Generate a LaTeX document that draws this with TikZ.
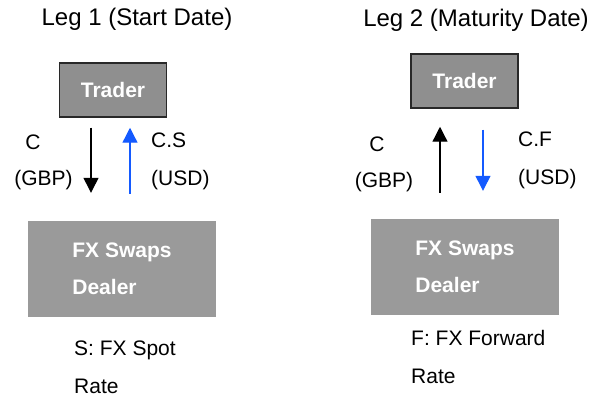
\documentclass[tikz,border=0pt]{standalone}
\usepackage{fontspec}
\setmainfont{Liberation Sans}
\usetikzlibrary{arrows.meta}
\definecolor{traderfill}{RGB}{143,143,143}
\definecolor{dealerfill}{RGB}{154,154,154}
\definecolor{usdblue}{RGB}{20,90,255}

\begin{document}
\begin{tikzpicture}[x=1pt, y=-1pt,
	trader/.style={shape=rectangle, fill=traderfill, draw={rgb,255:red,40;green,40;blue,40}, line width=1.5pt, minimum width=107pt, minimum height=54pt, text=white, font=\fontsize{21}{25}\selectfont\bfseries},
	dealer/.style={shape=rectangle, fill=dealerfill, minimum width=188pt, minimum height=96pt, text=white, align=left, font=\fontsize{21}{37}\selectfont\bfseries},
	legtitle/.style={font=\fontsize{24}{28}\selectfont, inner sep=0pt},
	lbl/.style={font=\fontsize{21}{38}\selectfont, align=left, inner sep=0pt},
	flow/.style={line width=1.3pt, -{Triangle[width=15pt,length=15pt]}}]

	% Frame, boxes and titles:
	\useasboundingbox (0,0) rectangle (594,398);
	\node[legtitle] (titleA) at (137,19) {Leg 1 (Start Date)};
	\node[legtitle] (titleB) at (476,20) {Leg 2 (Maturity Date)};
	\node[trader] (traderA) at (113,90) {Trader};
	\node[trader] (traderB) at (464.5,81) {Trader};
	\node[dealer] (dealerA) at (122,269) {FX Swaps\\Dealer};
	\node[dealer] (dealerB) at (465,267) {FX Swaps\\Dealer};

	% Labels:
	\node[lbl] (cA) at (33,142) {C};
	\node[lbl] (gbpA) at (43.5,180) {(GBP)};
	\node[lbl, anchor=west] (usdA) at (151,161) {C.S\\(USD)};
	\node[lbl, anchor=west] (spotA) at (74,367) {S: FX Spot\\Rate};
	\node[lbl] (cB) at (377,144) {C};
	\node[lbl] (gbpB) at (384,182) {(GBP)};
	\node[lbl, anchor=west] (usdB) at (518,160) {C.F\\(USD)};
	\node[lbl, anchor=west] (fwdB) at (411,357) {F: FX Forward\\Rate};

	% Cash flows:
	\coordinate (gbpflowA) at ([xshift=-22pt]traderA.south);
	\coordinate (usdflowA) at ([xshift=17pt]traderA.south);
	\coordinate (gbpflowB) at ([xshift=-24.5pt]traderB.south);
	\coordinate (usdflowB) at ([xshift=18.5pt]traderB.south);
	\draw[flow, shorten <=10pt, shorten >=28pt] (gbpflowA) -- (gbpflowA |- dealerA.north);
	\draw[flow, usdblue, shorten <=27pt, shorten >=10pt] (usdflowA |- dealerA.north) -- (usdflowA);
	\draw[flow, shorten <=26pt, shorten >=18pt] (gbpflowB |- dealerB.north) -- (gbpflowB);
	\draw[flow, usdblue, shorten <=21pt, shorten >=28pt] (usdflowB) -- (usdflowB |- dealerB.north);

\end{tikzpicture}
\end{document}
